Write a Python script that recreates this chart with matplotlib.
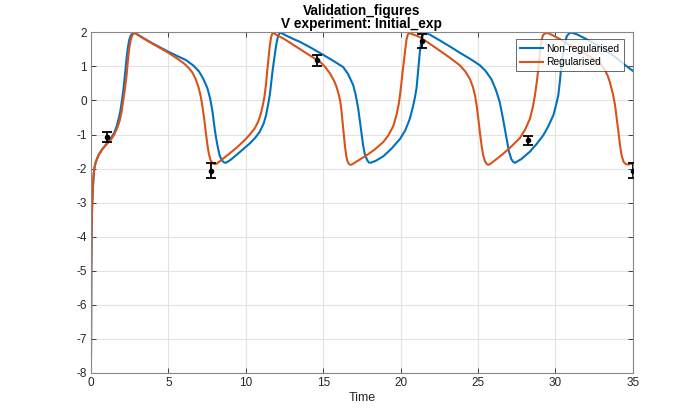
import matplotlib
matplotlib.use("Agg")
import matplotlib.pyplot as plt

# Non-regularised (blue) trajectory
t_nonreg = [0, 0.01, 0.02, 0.035, 0.05, 0.07, 0.1, 0.13, 0.17, 0.22, 0.3, 0.4, 0.52, 0.7, 0.84,
            1.04, 1.3, 1.5, 1.65, 1.78, 1.9, 2.0, 2.1, 2.2, 2.3, 2.38, 2.47, 2.58, 2.7, 2.82,
            3.0, 3.5, 4.0, 4.5, 5.0, 5.5, 6.12, 6.6, 6.98, 7.25, 7.52, 7.7, 7.85, 7.98, 8.08,
            8.17, 8.3, 8.45, 8.6, 8.71,
            9.0, 9.5, 10.0, 10.26, 10.6, 10.9, 11.15, 11.3, 11.45, 11.55, 11.65, 11.75, 11.87,
            11.97, 12.07, 12.16, 12.24,
            12.5, 13.0, 13.5, 14.2, 15.0, 15.7, 16.29, 16.6, 16.94, 17.1, 17.26, 17.42, 17.58,
            17.7, 17.85, 17.95, 18.06,
            18.4, 18.88, 19.4, 19.96, 20.3, 20.6, 20.8, 20.93, 21.03, 21.14, 21.25, 21.35,
            21.45, 21.57,
            21.9, 22.54, 23.2, 23.83, 24.5, 25.13, 25.5, 25.87, 26.15, 26.4, 26.6, 26.75, 26.85,
            27.0, 27.15, 27.27, 27.39,
            27.8, 28.36, 28.8, 29.22, 29.55, 29.87, 30.05, 30.19, 30.3, 30.4, 30.55, 30.73,
            30.88, 31.05,
            31.4, 32.0, 32.7, 33.4, 34.0, 34.5, 35.0]
v_nonreg = [-7.5, -6.0, -5.0, -4.2, -3.6, -3.2, -2.8, -2.5, -2.2, -1.98, -1.82, -1.7, -1.58,
            -1.45, -1.37,
            -1.25, -1.1, -0.95, -0.77, -0.55, -0.3, 0.0, 0.35, 0.78, 1.25, 1.55, 1.78, 1.92,
            1.97, 1.99,
            1.94, 1.8, 1.67, 1.55, 1.43, 1.32, 1.19, 1.03, 0.85, 0.64, 0.36, 0.05, -0.33, -0.8,
            -1.1, -1.32, -1.6, -1.76, -1.82, -1.83,
            -1.75, -1.56, -1.36, -1.26, -1.1, -0.92, -0.68, -0.45, -0.1, 0.16, 0.55, 0.95, 1.34,
            1.65, 1.87, 1.96, 1.99,
            1.93, 1.82, 1.72, 1.55, 1.34, 1.15, 0.98, 0.78, 0.45, 0.16, -0.23, -0.78, -1.32,
            -1.6, -1.76, -1.82, -1.83,
            -1.77, -1.64, -1.42, -1.13, -0.88, -0.53, -0.18, 0.1, 0.36, 0.9, 1.45, 1.78, 1.93,
            1.99,
            1.93, 1.76, 1.58, 1.4, 1.22, 1.03, 0.86, 0.62, 0.32, -0.04, -0.5, -0.88, -1.12,
            -1.5, -1.72, -1.8, -1.83,
            -1.72, -1.5, -1.27, -1.02, -0.75, -0.43, -0.12, 0.16, 0.6, 1.14, 1.55, 1.88, 1.97,
            1.99,
            1.94, 1.8, 1.62, 1.42, 1.23, 1.04, 0.87]

# Regularised (orange) trajectory
t_reg = [0, 0.01, 0.02, 0.035, 0.05, 0.07, 0.1, 0.13, 0.17, 0.22, 0.3, 0.4, 0.52, 0.7, 0.84,
         1.04, 1.3, 1.5, 1.7, 1.85, 1.97, 2.07, 2.18, 2.29, 2.38, 2.46, 2.55, 2.65, 2.75, 2.85,
         3.0, 3.5, 4.0, 4.5, 5.0, 5.5, 6.0, 6.3, 6.55, 6.77, 6.95, 7.09, 7.2, 7.31, 7.42, 7.52,
         7.62, 7.72, 7.85, 8.0, 8.1,
         8.5, 9.0, 9.5, 10.0, 10.3, 10.6, 10.8, 10.95, 11.08, 11.2, 11.3, 11.38, 11.46, 11.55,
         11.63, 11.7, 11.8,
         12.0, 12.5, 13.28, 14.0, 14.78, 15.1, 15.43, 15.7, 15.86, 16.0, 16.1, 16.18, 16.25,
         16.33, 16.4, 16.48, 16.55, 16.65, 16.75, 16.85,
         17.2, 17.8, 18.3, 18.88, 19.2, 19.53, 19.75, 19.88, 19.96, 20.05, 20.13, 20.21, 20.3,
         20.38, 20.46, 20.56,
         20.8, 21.25, 22.0, 22.54, 23.2, 23.83, 24.2, 24.48, 24.68, 24.82, 24.93, 25.02, 25.12,
         25.23, 25.33, 25.45, 25.55, 25.66, 25.8,
         26.2, 26.64, 27.2, 27.71, 28.05, 28.36, 28.55, 28.68, 28.8, 28.9, 29.0, 29.11, 29.2,
         29.35, 29.5,
         29.8, 30.3, 31.0, 31.5, 32.2, 32.88, 33.2, 33.4, 33.53, 33.7, 33.85, 33.96, 34.07,
         34.17, 34.27, 34.4, 34.55, 34.7, 35.0]
v_reg = [-7.5, -6.0, -5.0, -4.2, -3.6, -3.2, -2.8, -2.5, -2.2, -1.98, -1.82, -1.7, -1.58,
         -1.45, -1.37,
         -1.27, -1.14, -1.0, -0.8, -0.6, -0.35, -0.05, 0.3, 0.7, 1.15, 1.5, 1.75, 1.9, 1.96,
         1.98,
         1.93, 1.79, 1.66, 1.53, 1.4, 1.25, 1.09, 0.96, 0.82, 0.62, 0.38, 0.12, -0.18, -0.53,
         -0.95, -1.3, -1.58, -1.75, -1.84, -1.87, -1.86,
         -1.72, -1.54, -1.35, -1.13, -0.98, -0.8, -0.62, -0.42, -0.18, 0.1, 0.45, 0.85, 1.2,
         1.6, 1.85, 1.95, 1.98,
         1.92, 1.8, 1.57, 1.36, 1.14, 1.0, 0.8, 0.58, 0.4, 0.18, -0.02, -0.3, -0.63, -1.0,
         -1.32, -1.6, -1.76, -1.86, -1.89, -1.88,
         -1.78, -1.61, -1.45, -1.22, -1.03, -0.75, -0.4, -0.1, 0.16, 0.5, 0.85, 1.14, 1.5,
         1.78, 1.93, 1.98,
         1.94, 1.86, 1.63, 1.46, 1.25, 1.03, 0.84, 0.63, 0.38, 0.12, -0.2, -0.53, -0.93, -1.32,
         -1.6, -1.78, -1.86, -1.89, -1.86,
         -1.72, -1.56, -1.33, -1.1, -0.85, -0.53, -0.18, 0.16, 0.55, 0.94, 1.4, 1.78, 1.92,
         1.97, 1.98,
         1.92, 1.8, 1.6, 1.47, 1.3, 1.1, 0.9, 0.7, 0.52, 0.22, -0.13, -0.52, -0.92, -1.3,
         -1.6, -1.8, -1.87, -1.88, -1.85]

# Experimental data with error bars
t_data = [1.04, 7.78, 14.61, 21.4, 28.25, 35.0]
v_data = [-1.08, -2.07, 1.18, 1.74, -1.17, -2.07]
v_err = [0.15, 0.22, 0.155, 0.2, 0.14, 0.22]

x_ticks = [0, 5, 10, 15, 20, 25, 30, 35]
y_ticks = [-8, -7, -6, -5, -4, -3, -2, -1, 0, 1, 2]

plt.rcParams['font.family'] = ['Liberation Sans', 'DejaVu Sans']
plt.rcParams['axes.unicode_minus'] = False

fig = plt.figure(figsize=(7, 4.2), dpi=100)
ax = fig.add_axes([0.13, 0.112, 0.774, 0.811])

blue = '#0072BD'
orange = '#D95319'
ax.plot(t_nonreg, v_nonreg, color=blue, lw=1.5, label='Non-regularised')
ax.plot(t_reg, v_reg, color=orange, lw=1.5, label='Regularised')
ax.errorbar(t_data, v_data, yerr=v_err, fmt='.', color='black', ms=6,
            elinewidth=1.3, capsize=3.8, capthick=1.3, zorder=5)

ax.set_xlim(0, 35)
ax.set_ylim(-8, 2)
ax.set_xticks(x_ticks)
ax.set_yticks(y_ticks)
ax.grid(True, color='#e3e3e3', lw=0.8)
ax.set_axisbelow(True)
ax.tick_params(direction='in', top=True, right=True, length=3.5, width=0.6,
               colors='#262626', labelsize=8.5, pad=3)
for s in ax.spines.values():
    s.set_color('#888888')
    s.set_linewidth(0.8)

ax.set_xlabel('Time', fontsize=9, color='#262626', labelpad=2)
ax.set_title('Validation_figures\nV experiment: Initial_exp', fontsize=9.8,
             fontweight='bold', color='black', pad=3, linespacing=0.95)

leg = ax.legend(loc='upper right', bbox_to_anchor=(0.983, 0.979), fontsize=7.4,
                frameon=True, fancybox=False, edgecolor='#262626', handlelength=2.3,
                handletextpad=0.3, borderpad=0.4, labelspacing=0.35, borderaxespad=0.0)
leg.get_frame().set_linewidth(0.6)

fig.savefig('out.png', dpi=100)
